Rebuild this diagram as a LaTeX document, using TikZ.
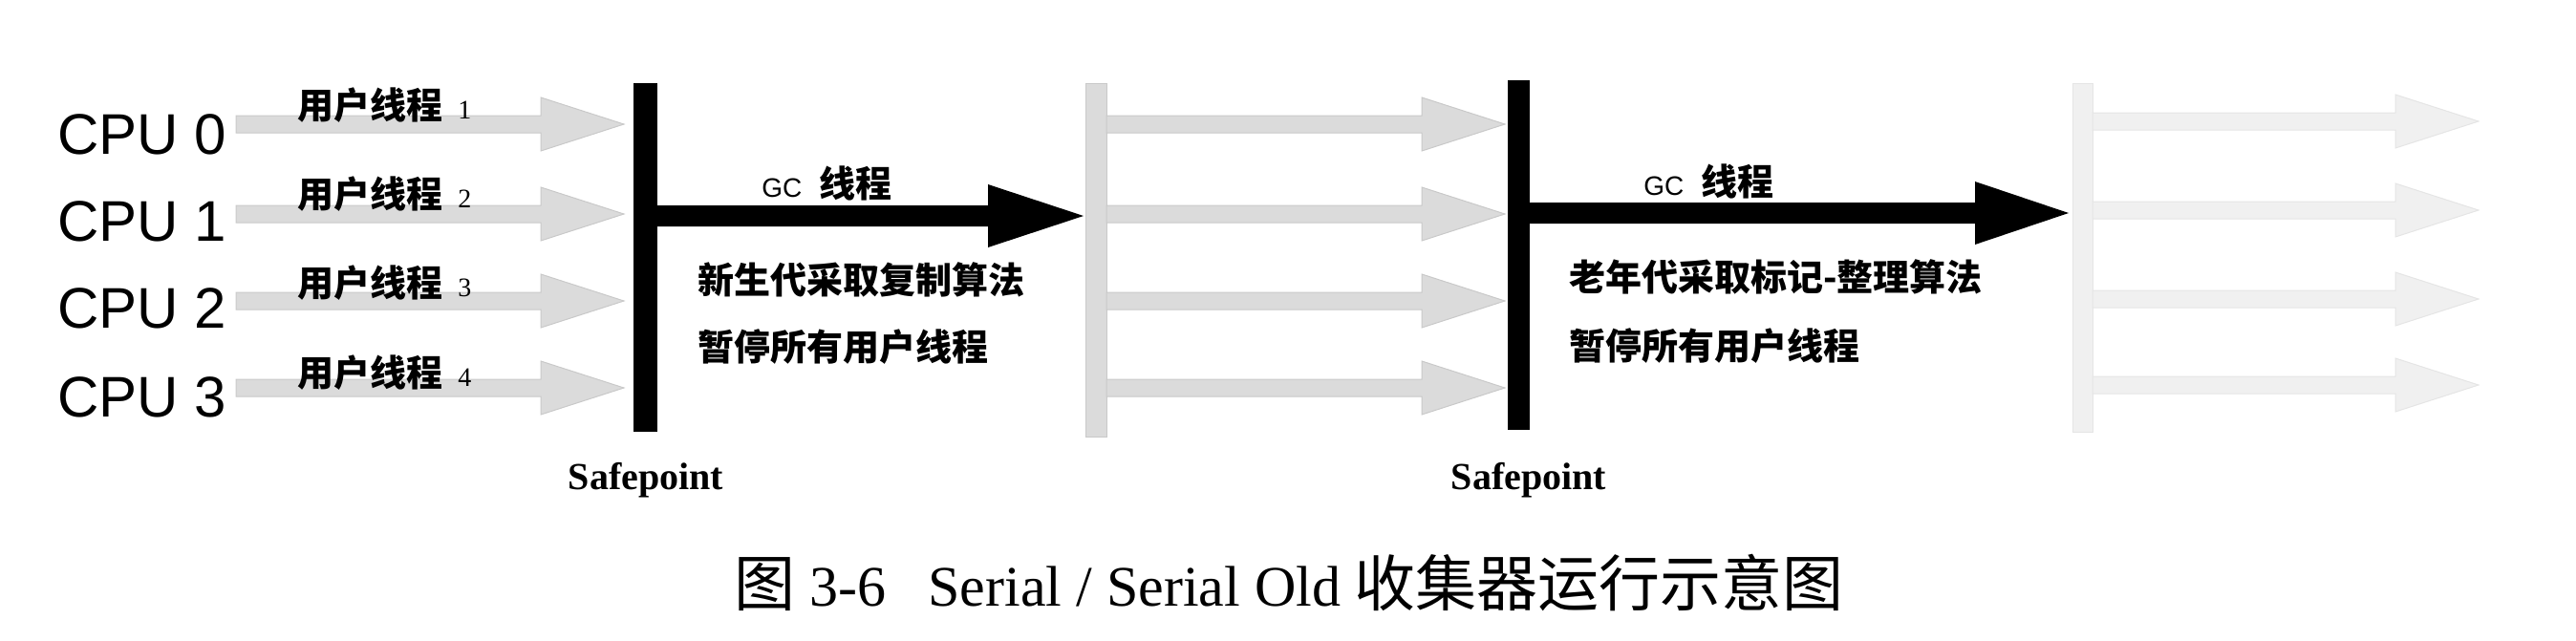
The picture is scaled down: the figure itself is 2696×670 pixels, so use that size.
\documentclass[tikz,border=0pt]{standalone}
\usepackage{fontspec}
\setmainfont{Liberation Serif}
\newfontfamily\cpufont{Liberation Sans}
\newfontfamily\cjk{Noto Sans CJK SC}
\newcommand{\blkarr}[7]{%
  \path[#7] ({#1},{#3-#4}) -- ({#2-#6},{#3-#4}) -- ({#2-#6},{#3-#5}) -- ({#2},{#3})
    -- ({#2-#6},{#3+#5}) -- ({#2-#6},{#3+#4}) -- ({#1},{#3+#4}) -- cycle;}
\tikzset{
  cpu/.style={anchor=west, inner sep=0pt, font=\cpufont\fontsize{30}{36}\selectfont},
  thr/.style={anchor=west, inner sep=0pt, font=\cjk\bfseries\fontsize{19}{22}\selectfont},
  sp/.style={inner sep=0pt, font=\bfseries\fontsize{20}{24}\selectfont},
  capt/.style={inner sep=0pt, font=\fontsize{30}{36}\selectfont},
  ua/.style={fill=gray!28, draw=gray!42, line width=0.5pt},
  ub/.style={fill=gray!12, draw=gray!20, line width=0.5pt},
  bandA/.style={fill=gray!28, draw=gray!42, line width=0.5pt},
  bandB/.style={fill=gray!12, draw=gray!20, line width=0.5pt},
  sbar/.style={fill=black},
  gcarr/.style={fill=black}
}
\newcommand{\num}[1]{\hspace{8pt}{\rmfamily\mdseries\fontsize{14}{16}\selectfont #1}}
\newcommand{\gclab}{{\cpufont\mdseries\fontsize{14}{16}\selectfont GC}\hspace{9pt}线程}
\begin{document}
\begin{tikzpicture}[x=0.5pt,y=-0.5pt]
\useasboundingbox (0,0) rectangle (2696,670);
% CPU labels
\node[cpu] (c0) at (60,141) {CPU 0};
\node[cpu] (c1) at (60,232) {CPU 1};
\node[cpu] (c2) at (60,323) {CPU 2};
\node[cpu] (c3) at (60,416) {CPU 3};
% user threads, phase 1
\foreach \y in {130,224,315,406} {\blkarr{247}{653}{\y}{9}{28}{87}{ua}}
\node[thr] (u1) at (311,110) {用户线程\num{1}};
\node[thr] (u2) at (311,203) {用户线程\num{2}};
\node[thr] (u3) at (311,296) {用户线程\num{3}};
\node[thr] (u4) at (311,390) {用户线程\num{4}};
% safepoint 1
\fill[sbar] (663,87) rectangle (688,452);
\blkarr{686}{1134}{226}{11}{33}{100}{gcarr}
\node[thr] (gc1) at (797,192) {\gclab};
\node[thr] (n1a) at (730,293) {新生代采取复制算法};
\node[thr] (n1b) at (730,363) {暂停所有用户线程};
\node[sp] (sp1) at (676,503) {Safepoint};
% user threads, phase 2
\path[bandA] (1136,87) rectangle (1158,457);
\foreach \y in {130,224,315,406} {\blkarr{1158}{1575}{\y}{9}{28}{87}{ua}}
% safepoint 2
\fill[sbar] (1578,84) rectangle (1601,450);
\blkarr{1599}{2165}{223}{11}{33}{98}{gcarr}
\node[thr] (gc2) at (1720,190) {\gclab};
\node[thr] (n2a) at (1642,290) {老年代采取标记-整理算法};
\node[thr] (n2b) at (1642,362) {暂停所有用户线程};
\node[sp] (sp2) at (1600,503) {Safepoint};
% user threads, phase 3
\path[bandB] (2169,87) rectangle (2190,452);
\foreach \y in {127,220,313,403} {\blkarr{2190}{2594}{\y}{9}{28}{87}{ub}}
% caption
\node[capt, anchor=west] (cap) at (768,610) {{\cjk\fontsize{32}{36}\selectfont 图} 3-6\hspace{22pt}Serial / Serial Old {\cjk\fontsize{32}{36}\selectfont 收集器运行示意图}};
\end{tikzpicture}
\end{document}
